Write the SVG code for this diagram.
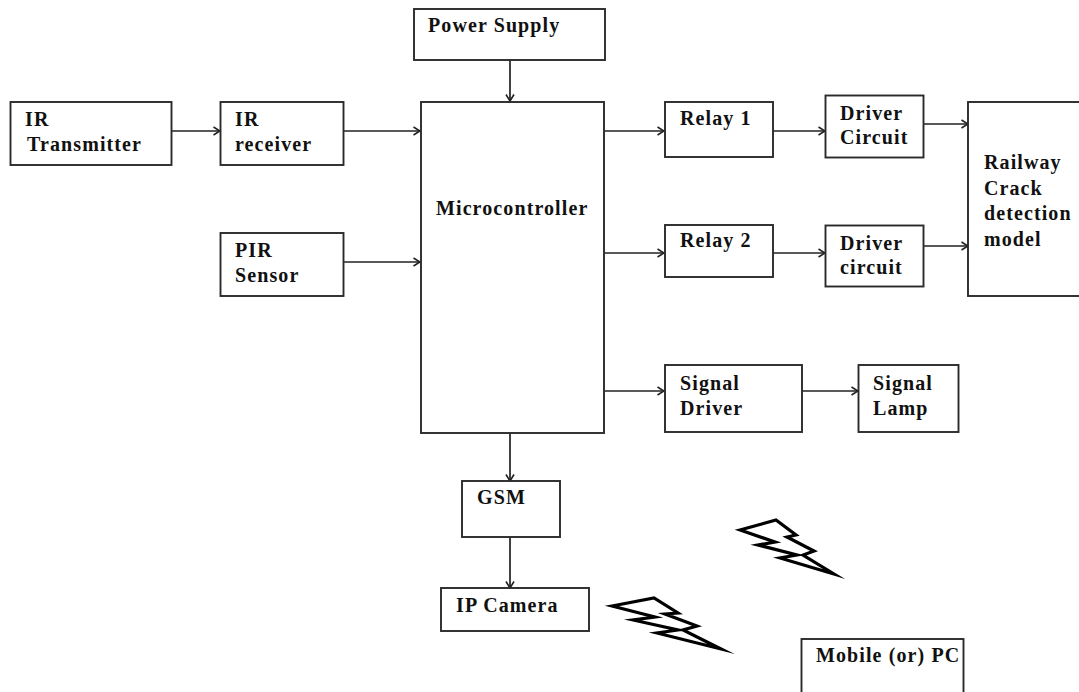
<svg xmlns="http://www.w3.org/2000/svg" width="1079" height="692" viewBox="0 0 1079 692">
<defs>
<marker id="arrow" markerUnits="userSpaceOnUse" markerWidth="9" markerHeight="10" refX="8" refY="5" orient="auto"><path d="M1.500 1 L8 5 L1.500 9" fill="none" stroke="#222" stroke-width="1.600"/></marker>
</defs>
<style>
rect{fill:#fff;stroke:#2a2a2a;stroke-width:1.900}
text{font-family:"Liberation Serif","Times New Roman",serif;font-weight:bold;font-size:20px;letter-spacing:1.100px;fill:#111}
#connectors path{fill:none;stroke:#222;stroke-width:1.700;marker-end:url(#arrow)}
.bolt{fill:#fff;stroke:#000;stroke-width:3.200;stroke-linejoin:miter;stroke-miterlimit:10}
</style>
<rect x="0" y="0" width="1079" height="692" style="fill:#fff;stroke:none"/>
<g id="connectors">
<path d="M510 60V101"/>
<path d="M171 131H220"/>
<path d="M343 131H420"/>
<path d="M343 262H420"/>
<path d="M604 131H664"/>
<path d="M773 131H825"/>
<path d="M923 124H968"/>
<path d="M604 253H664"/>
<path d="M773 253H825"/>
<path d="M923 246H968"/>
<path d="M604 391H664"/>
<path d="M802 391H858"/>
<path d="M510 433V481"/>
<path d="M510 537V588"/>
</g>
<g id="power-supply"><rect x="414" y="9" width="191" height="51"/><text x="428" y="32">Power Supply</text></g>
<g id="ir-transmitter"><rect x="10.500" y="102" width="161" height="63"/><text x="25" y="126">IR</text><text x="27" y="151">Transmitter</text></g>
<g id="ir-receiver"><rect x="220.500" y="102" width="123" height="63"/><text x="235" y="126">IR</text><text x="235" y="151">receiver</text></g>
<g id="pir-sensor"><rect x="220.500" y="233" width="123" height="63"/><text x="235" y="257">PIR</text><text x="235" y="282">Sensor</text></g>
<g id="microcontroller"><rect x="421" y="102" width="183" height="331"/><text x="436" y="215">Microcontroller</text></g>
<g id="relay-1"><rect x="665" y="102" width="108" height="55"/><text x="680" y="125">Relay 1</text></g>
<g id="driver-circuit-1"><rect x="825.500" y="95.500" width="98" height="62"/><text x="840" y="120">Driver</text><text x="840" y="144">Circuit</text></g>
<g id="relay-2"><rect x="665" y="225" width="108" height="52"/><text x="680" y="247">Relay 2</text></g>
<g id="driver-circuit-2"><rect x="825.500" y="225.500" width="98" height="61"/><text x="840" y="250">Driver</text><text x="840" y="274">circuit</text></g>
<g id="railway-model"><rect x="968" y="102" width="114" height="194"/><text x="984" y="169">Railway</text><text x="984" y="195">Crack</text><text x="984" y="220">detection</text><text x="984" y="246">model</text></g>
<g id="signal-driver"><rect x="665" y="365" width="137" height="67"/><text x="680" y="390">Signal</text><text x="680" y="415">Driver</text></g>
<g id="signal-lamp"><rect x="858.500" y="365" width="100" height="67"/><text x="873" y="390">Signal</text><text x="873" y="415">Lamp</text></g>
<g id="gsm"><rect x="462" y="481" width="98" height="56"/><text x="477" y="504">GSM</text></g>
<g id="ip-camera"><rect x="441" y="588" width="148" height="43"/><text x="456" y="612">IP Camera</text></g>
<g id="mobile-pc"><rect x="801.500" y="639" width="162" height="60"/><text x="816" y="662">Mobile (or) PC</text></g>
<polygon class="bolt" points="740,530 776,520 796,535 787,537 814,551 803,555 834,574 780,558 797,555 758,545 775,542"/>
<polygon class="bolt" points="612,606 654,598 678,613 665,614 697,626 683,630 721,649 657,633 678,630 633,620 655,617"/>
</svg>
